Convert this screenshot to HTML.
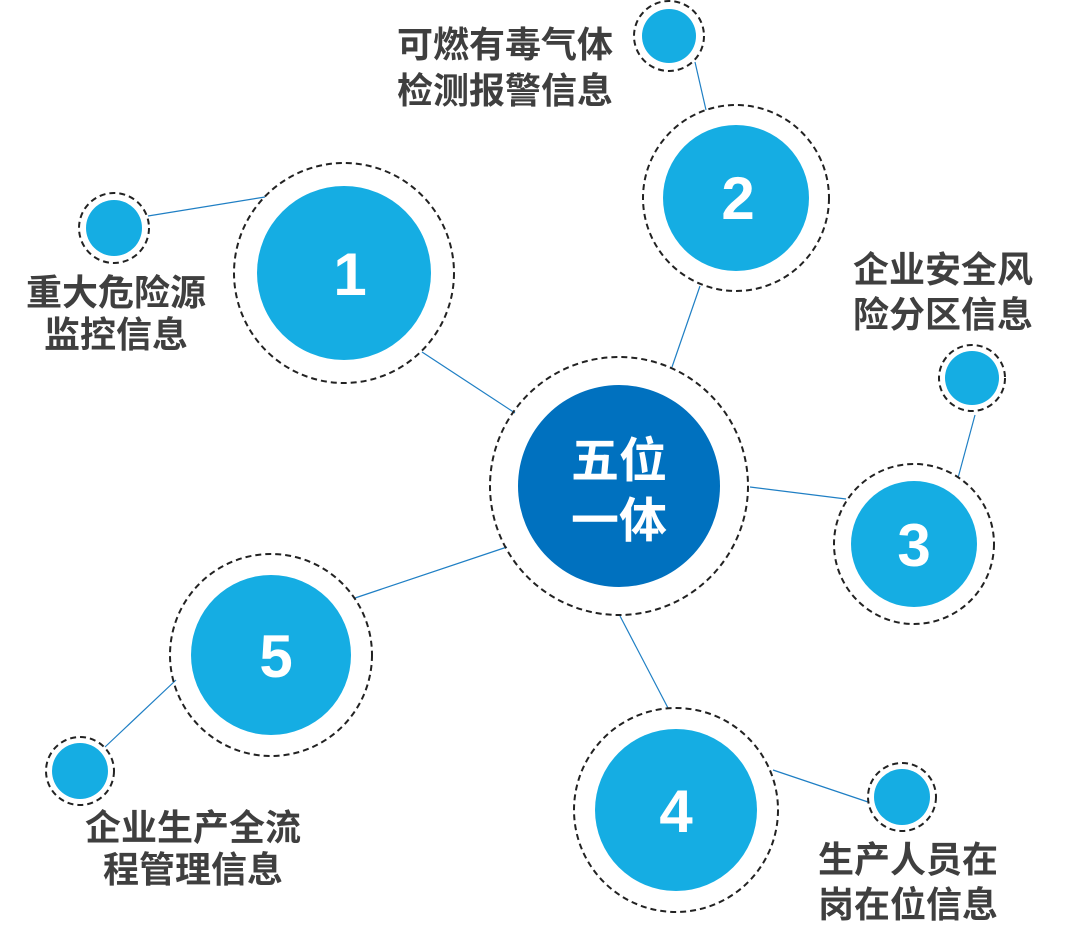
<!DOCTYPE html>
<html><head><meta charset="utf-8"><style>
html,body{margin:0;padding:0;background:#fff;}
svg{display:block}
.t{font-family:"Liberation Sans","Noto Sans CJK SC",sans-serif;font-weight:bold;fill:#3f3f3f;font-size:36px}
.n{font-family:"Liberation Sans",sans-serif;font-weight:bold;fill:#fff;font-size:60px}
.c{font-family:"Liberation Sans","Noto Sans CJK SC",sans-serif;font-weight:bold;fill:#fff;font-size:48px}
</style></head><body>
<svg width="1070" height="950" viewBox="0 0 1070 950" xmlns="http://www.w3.org/2000/svg">
<g stroke="#1f7fc4" stroke-width="1.2">
<line x1="148" y1="216" x2="265" y2="197"/>
<line x1="422" y1="352" x2="515" y2="413"/>
<line x1="695" y1="62" x2="706" y2="110"/>
<line x1="700" y1="286" x2="672" y2="367"/>
<line x1="975" y1="415" x2="958" y2="478"/>
<line x1="750" y1="487" x2="846" y2="499"/>
<line x1="620" y1="616" x2="668" y2="708"/>
<line x1="773" y1="770" x2="868" y2="802"/>
<line x1="355" y1="598" x2="507" y2="547"/>
<line x1="176" y1="680" x2="105" y2="747"/>
</g>
<g fill="none" stroke="#222" stroke-width="2" stroke-dasharray="6,4">
<circle cx="619" cy="486" r="129"/>
<circle cx="344" cy="273" r="110"/>
<circle cx="736" cy="198" r="93"/>
<circle cx="914" cy="544" r="80"/>
<circle cx="676" cy="810" r="102"/>
<circle cx="271" cy="655" r="101"/>
<circle cx="114" cy="228" r="35"/>
<circle cx="669" cy="36" r="35"/>
<circle cx="972" cy="378" r="33"/>
<circle cx="902" cy="797" r="34"/>
<circle cx="80" cy="771" r="34"/>
</g>
<circle cx="619" cy="486" r="101" fill="#0071bf"/>
<g fill="#15ade3">
<circle cx="344" cy="273" r="87"/>
<circle cx="736" cy="198" r="73"/>
<circle cx="914" cy="544" r="63"/>
<circle cx="676" cy="810" r="81"/>
<circle cx="271" cy="655" r="80"/>
<circle cx="114" cy="228" r="28"/>
<circle cx="669" cy="36" r="27"/>
<circle cx="972" cy="378" r="27"/>
<circle cx="902" cy="797" r="28"/>
<circle cx="80" cy="771" r="28"/>
</g>
<g text-anchor="middle">
<text x="350" y="295" class="n">1</text>
<text x="738" y="219" class="n">2</text>
<text x="914" y="566" class="n">3</text>
<text x="676" y="832" class="n">4</text>
<text x="276" y="677" class="n">5</text>
</g>
<text x="619" y="477" text-anchor="middle" class="c">五位</text>
<text x="619" y="537" text-anchor="middle" class="c">一体</text>
<text x="116" y="305" text-anchor="middle" class="t">重大危险源</text>
<text x="116" y="347" text-anchor="middle" class="t">监控信息</text>
<text x="505" y="57" text-anchor="middle" class="t">可燃有毒气体</text>
<text x="505" y="103" text-anchor="middle" class="t">检测报警信息</text>
<text x="943" y="282" text-anchor="middle" class="t">企业安全风</text>
<text x="943" y="327" text-anchor="middle" class="t">险分区信息</text>
<text x="908" y="872" text-anchor="middle" class="t">生产人员在</text>
<text x="908" y="917" text-anchor="middle" class="t">岗在位信息</text>
<text x="193" y="840" text-anchor="middle" class="t">企业生产全流</text>
<text x="193" y="882" text-anchor="middle" class="t">程管理信息</text>
</svg>
</body></html>
